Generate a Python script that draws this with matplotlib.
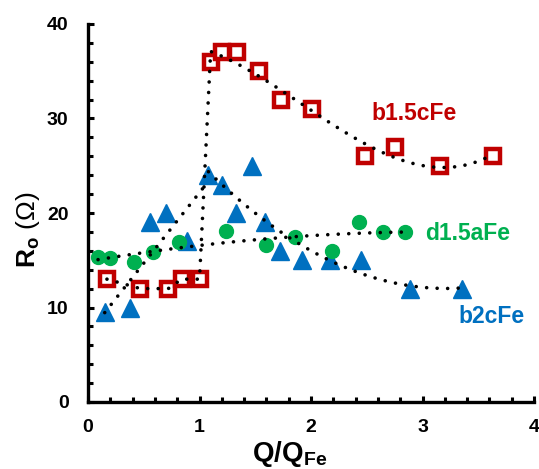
import numpy as np
import matplotlib
matplotlib.use("Agg")
import matplotlib.pyplot as plt
from matplotlib.ticker import MultipleLocator

plt.rcParams['font.family'] = ['Liberation Sans', 'DejaVu Sans']
plt.rcParams['mathtext.fontset'] = 'custom'
plt.rcParams['mathtext.rm'] = 'Liberation Sans'
plt.rcParams['mathtext.bf'] = 'Liberation Sans:bold'
plt.rcParams['mathtext.it'] = 'Liberation Sans:italic'

# b1.5cFe
x_b15c = [0.17, 0.47, 0.72, 0.84, 1.00, 1.10, 1.20, 1.34, 1.53, 1.73, 2.01, 2.48, 2.75, 3.16, 3.63]
y_b15c = [13.0, 12.0, 12.0, 13.0, 13.0, 36.0, 37.0, 37.0, 35.0, 32.0, 31.0, 26.0, 27.0, 25.0, 26.0]

# b2cFe
x_b2c = [0.15, 0.38, 0.56, 0.70, 0.89, 1.08, 1.20, 1.33, 1.47, 1.59, 1.72, 1.92, 2.17, 2.45, 2.89, 3.35]
y_b2c = [9.5, 10.0, 19.0, 20.0, 17.0, 24.0, 23.0, 20.0, 25.0, 19.0, 16.0, 15.0, 15.0, 15.0, 12.0, 12.0]

# d1.5aFe
x_d15a = [0.09, 0.20, 0.41, 0.58, 0.82, 1.24, 1.60, 1.86, 2.19, 2.43, 2.65, 2.84]
y_d15a = [15.3, 15.2, 14.8, 15.9, 16.9, 18.1, 16.6, 17.5, 16.0, 19.1, 18.0, 18.0]

x_ticks = [0, 1, 2, 3, 4]
y_ticks = [0, 10, 20, 30, 40]

RED = '#C00000'
BLUE = '#0070C0'
GREEN = '#00B050'

fig = plt.figure(figsize=(5.39, 4.69), dpi=100)
ax = fig.add_axes([88 / 539, 1 - 402 / 469, (534 - 88) / 539, (402 - 24) / 469])

ax.plot(x_b15c, y_b15c, ls='none', marker='s', ms=10.3, mfc='white', mec=RED, mew=3.2, zorder=3)
ax.plot(x_b2c, y_b2c, ls='none', marker='^', ms=12.5, color=BLUE, mec=BLUE, zorder=3)
ax.plot(x_d15a, y_d15a, ls='none', marker='o', ms=10, color=GREEN, mec=GREEN, zorder=3)

dot = dict(color='black', lw=2.6, ls=(0, (0.01, 2.9)), dash_capstyle='round', zorder=4)

# b1.5cFe trend: low-Q branch through points, high-Q branch cubic fit
xr = np.array(x_b15c)
yr = np.array(y_b15c)
c_r = np.polyfit(xr[5:], yr[5:], 3)
xs_r = np.linspace(xr[5], xr[-1], 150)
ax.plot(np.concatenate([xr[:5], xs_r]), np.concatenate([yr[:5], np.polyval(c_r, xs_r)]), **dot)

# b2cFe trend: linear rise, quadratic decay
xb = np.array(x_b2c)
yb = np.array(y_b2c)
c_b1 = np.polyfit(xb[:6], yb[:6], 1)
c_b2 = np.polyfit(xb[5:], yb[5:], 2)
xs_b1 = np.linspace(xb[0], xb[5], 60)
xs_b2 = np.linspace(xb[5], xb[-1], 150)
ax.plot(xs_b1, np.polyval(c_b1, xs_b1), **dot)
ax.plot(xs_b2, np.polyval(c_b2, xs_b2), **dot)

# d1.5aFe trend
xg = np.array(x_d15a)
yg = np.array(y_d15a)
c_g = np.polyfit(xg, yg, 2)
xs_g = np.linspace(xg[0], xg[-1], 150)
ax.plot(xs_g, np.polyval(c_g, xs_g), **dot)

ax.text(2.545, 29.84, 'b1.5cFe', color=RED, fontsize=16.5, fontweight='bold', va='baseline', ha='left')
ax.text(3.02, 17.14, 'd1.5aFe', color=GREEN, fontsize=16.5, fontweight='bold', va='baseline', ha='left')
ax.text(3.32, 8.36, 'b2cFe', color=BLUE, fontsize=16.5, fontweight='bold', va='baseline', ha='left')

ax.set_xlim(0, 4)
ax.set_ylim(0, 40)
ax.set_xticks(x_ticks)
ax.set_yticks(y_ticks)
ax.xaxis.set_minor_locator(MultipleLocator(0.2))
ax.yaxis.set_minor_locator(MultipleLocator(2))
for s in ['top', 'right']:
    ax.spines[s].set_visible(False)
for s in ['left', 'bottom']:
    ax.spines[s].set_linewidth(2.4)
ax.tick_params(which='both', direction='in', width=2.2, labelsize=14)
ax.tick_params(which='major', length=4)
ax.tick_params(which='minor', length=3.5)
ax.tick_params(axis='y', which='major', pad=14)
ax.tick_params(axis='x', which='major', pad=12)
for lab in ax.get_xticklabels() + ax.get_yticklabels():
    lab.set_fontweight('bold')

fig.text(290 / 539, 1 - 439 / 469, r'$\mathbf{Q/Q_{Fe}}$', fontsize=20,
         ha='center', va='top')
fig.text(28 / 539, 1 - 230 / 469, r'$\mathbf{R_o}$ ($\Omega$)', fontsize=19, rotation=90,
         ha='center', va='center')

fig.savefig('out.png', dpi=100)
